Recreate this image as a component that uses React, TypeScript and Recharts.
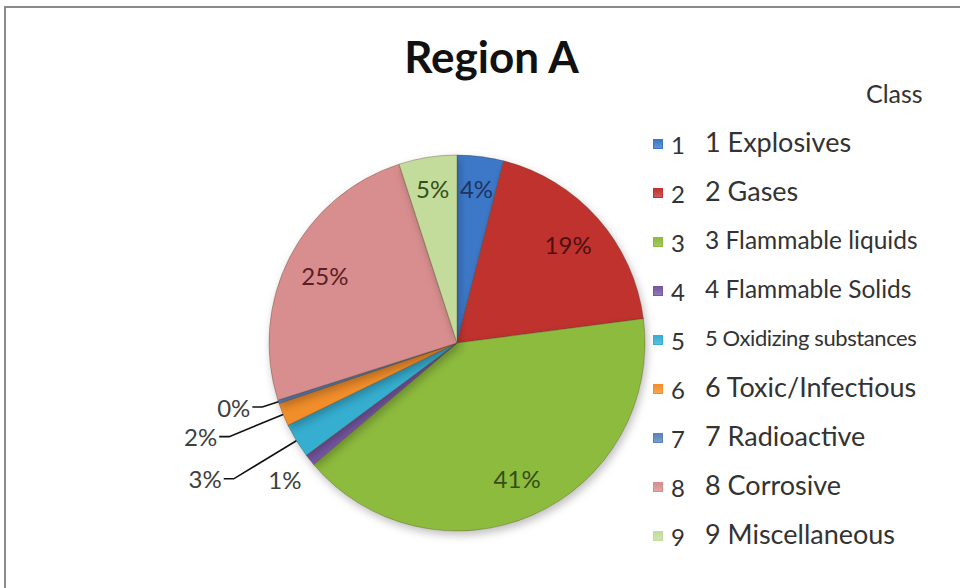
import { PieChart, Pie, Cell, Legend } from "recharts";

const classNames = [
  "1 Explosives",
  "2 Gases",
  "3 Flammable liquids",
  "4 Flammable Solids",
  "5 Oxidizing substances",
  "6 Toxic/Infectious",
  "7 Radioactive",
  "8 Corrosive",
  "9 Miscellaneous",
];
const classKeys = ["1", "2", "3", "4", "5", "6", "7", "8", "9"];
const shares = [4, 19, 41, 1, 3, 2, 0.3, 25, 5];

const COLORS = [
  "#3c78c8",
  "#c0332f",
  "#8dbb3e",
  "#7657a3",
  "#35aed0",
  "#f28e2c",
  "#5a84bd",
  "#d88e8e",
  "#c3dc9c",
];
const LABEL_COLORS = [
  "#1d3560",
  "#4e1010",
  "#334f16",
  "#404040",
  "#404040",
  "#404040",
  "#404040",
  "#5c1e22",
  "#334f16",
];

const data = classKeys.map((key, i) => ({ key, name: classNames[i], value: shares[i] }));

const FONT = "Lato, 'Open Sans', sans-serif";
const RAD = Math.PI / 180;

// radius factor of label, and whether it sits outside with a leader line
const LABEL_POS: Record<number, { k: number; line?: boolean }> = {
  3: { k: 1.17 },
  4: { k: 1.39, line: true },
  5: { k: 1.31, line: true },
  6: { k: 1.09, line: true },
};

function renderLabel(props: any) {
  const { cx, cy, midAngle, outerRadius, percent, index } = props;
  const cos = Math.cos(-midAngle * RAD);
  const sin = Math.sin(-midAngle * RAD);
  const pos = LABEL_POS[index];
  const text = `${Math.round(percent * 100)}%`;
  if (!pos) {
    const r = outerRadius * (index === 0 || index === 8 ? 0.83 : 0.79);
    return (
      <text
        x={cx + r * cos}
        y={cy + r * sin}
        textAnchor="middle"
        dominantBaseline="central"
        fill={LABEL_COLORS[index]}
        fontFamily={FONT}
        fontSize={24}
      >
        {text}
      </text>
    );
  }
  const ex = cx + pos.k * outerRadius * cos;
  const ey = cy + pos.k * outerRadius * sin;
  if (!pos.line) {
    return (
      <text
        x={ex}
        y={ey}
        textAnchor="middle"
        dominantBaseline="central"
        fill="#404040"
        fontFamily={FONT}
        fontSize={24}
      >
        {text}
      </text>
    );
  }
  const sx = cx + outerRadius * cos;
  const sy = cy + outerRadius * sin;
  return (
    <g>
      <polyline
        points={`${sx},${sy} ${ex},${ey} ${ex - 10},${ey}`}
        fill="none"
        stroke="#111"
        strokeWidth={1.6}
      />
      <text
        x={ex - 12}
        y={ey}
        textAnchor="end"
        dominantBaseline="central"
        fill="#404040"
        fontFamily={FONT}
        fontSize={24}
      >
        {text}
      </text>
    </g>
  );
}

function LegendBox() {
  return (
    <div style={{ fontFamily: FONT, color: "#333" }}>
      {data.map((d, i) => (
        <div key={d.key} style={{ display: "flex", alignItems: "center", height: 49 }}>
          <span
            style={{
              width: 10,
              height: 10,
              marginTop: 4,
              background: `linear-gradient(${COLORS[i]}, ${COLORS[i]}cc)`,
              border: `1px solid ${COLORS[i]}`,
              boxSizing: "border-box",
              display: "inline-block",
            }}
          />
          <span
            style={{
              display: "inline-block",
              width: 22,
              marginLeft: 8,
              marginTop: 6,
              fontSize: 24,
              whiteSpace: "nowrap",
            }}
          >
            {d.key}
          </span>
          <span
            style={{
              marginLeft: 12,
              fontSize: i === 4 ? 22 : i === 2 || i === 3 ? 24.5 : 27,
              letterSpacing: i === 4 ? -0.4 : 0,
              whiteSpace: "nowrap",
            }}
          >
            {d.name}
          </span>
        </div>
      ))}
    </div>
  );
}

export default function App() {
  return (
    <div
      style={{
        position: "absolute",
        left: 0,
        top: 0,
        width: 960,
        height: 588,
        overflow: "hidden",
        background: "#fff",
      }}
    >
      <div
        style={{
          position: "absolute",
          left: 4,
          top: 6,
          width: 1000,
          height: 620,
          border: "2px solid #8a8a8a",
          boxSizing: "border-box",
        }}
      />
      <div
        style={{
          position: "absolute",
          left: 0,
          width: 983,
          top: 30,
          textAlign: "center",
          fontFamily: FONT,
          fontWeight: 700,
          fontSize: 44,
          color: "#111",
        }}
      >
        Region A
      </div>
      <div
        style={{
          position: "absolute",
          left: 866,
          top: 78,
          fontFamily: FONT,
          fontSize: 25,
          color: "#333",
        }}
      >
        Class
      </div>
      <PieChart width={960} height={588} style={{ position: "absolute", left: 0, top: 0 }}>
        <defs>
          <filter id="shadow" x="-20%" y="-20%" width="140%" height="140%">
            <feDropShadow dx="2" dy="4" stdDeviation="4" floodColor="#000" floodOpacity="0.25" />
          </filter>
        </defs>
        <Pie
          data={data}
          dataKey="value"
          nameKey="name"
          cx={452}
          cy={338}
          outerRadius={188}
          startAngle={90}
          endAngle={-270}
          stroke="rgba(80,60,40,0.35)"
          strokeWidth={1}
          labelLine={false}
          label={renderLabel}
          isAnimationActive={false}
          style={{ filter: "url(#shadow)" }}
        >
          {data.map((d, i) => (
            <Cell key={d.key} fill={COLORS[i]} />
          ))}
        </Pie>
        <Legend
          layout="vertical"
          verticalAlign="top"
          align="right"
          content={() => <LegendBox />}
          wrapperStyle={{ left: 653, top: 117, width: 307 }}
        />
      </PieChart>
    </div>
  );
}
